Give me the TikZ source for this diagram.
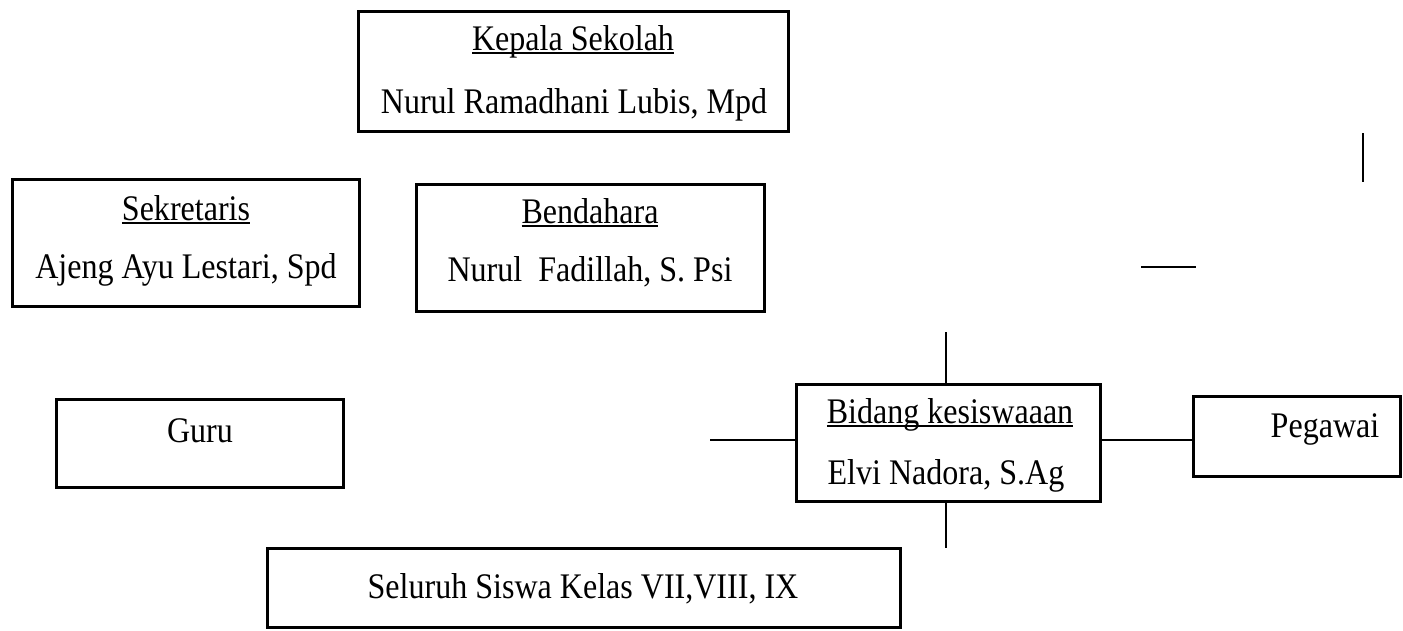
\documentclass[tikz,border=0pt]{standalone}
\usepackage{fontspec}
\setmainfont[FakeStretch=0.89]{Liberation Serif}
\newcommand{\uname}[1]{\setbox0\hbox{#1}\rlap{\rule[-3.5pt]{\wd0}{1.8pt}}\box0}

\begin{document}
\begin{tikzpicture}[x=1pt, y=-1pt]
    % Define styles
    \tikzset{
        box/.style={rectangle, draw, line width=3pt, inner sep=0pt},
        txt/.style={anchor=base, inner sep=0pt, font=\fontsize{36}{42}\selectfont},
        link/.style={line width=1.2pt},
    }
    \useasboundingbox (0,0) rectangle (1403,630);

    % Kepala Sekolah
    \node[box, minimum width=430, minimum height=120] (kepala) at (573.5,71.5) {};
    \node[txt] (kepalaA) at (573,50) {\uname{Kepala Sekolah}};
    \node[txt] (kepalaB) at (574,113) {Nurul Ramadhani Lubis, Mpd};

    % Sekretaris and Bendahara
    \node[box, minimum width=347, minimum height=127] (sekretaris) at (186,243) {};
    \node[txt] (sekretarisA) at (186,220) {\uname{Sekretaris}};
    \node[txt] (sekretarisB) at (186,278) {Ajeng Ayu Lestari, Spd};

    \node[box, minimum width=348, minimum height=127] (bendahara) at (590.5,248) {};
    \node[txt] (bendaharaA) at (590,223) {\uname{Bendahara}};
    \node[txt] (bendaharaB) at (590,281) {Nurul\ \ Fadillah, S. Psi};

    % Guru
    \node[box, minimum width=287, minimum height=88] (guru) at (200,443.5) {};
    \node[txt] (guruA) at (200,442) {Guru};

    % Bidang kesiswaan
    \node[box, minimum width=304, minimum height=117] (bidang) at (948.5,443) {};
    \node[txt] (bidangA) at (950,423) {\uname{Bidang kesiswaaan}};
    \node[txt] (bidangB) at (946,484) {Elvi Nadora, S.Ag};

    % Pegawai
    \node[box, minimum width=207.5, minimum height=80] (pegawai) at (1297,436.5) {};
    \node[txt] (pegawaiA) at (1325,437) {Pegawai};

    % Seluruh siswa
    \node[box, minimum width=633, minimum height=79] (siswa) at (584,588) {};
    \node[txt] (siswaA) at (583,598) {Seluruh Siswa Kelas VII,VIII, IX};

    % Connectors
    \coordinate (hline) at (0,440);
    \coordinate (upEnd) at (946,332);
    \coordinate (downEnd) at (946,548);
    \coordinate (leftEnd) at (710,440);
    \draw[link] (bidang.north -| upEnd) -- (upEnd);
    \draw[link] (bidang.south -| downEnd) -- (downEnd);
    \draw[link] (bidang.west |- hline) -- (leftEnd);
    \draw[link] (bidang.east |- hline) -- (pegawai.west |- hline);

    % Loose lines
    \coordinate (vA) at (1363,133);
    \coordinate (vB) at (1363,182);
    \coordinate (hA) at (1141,267);
    \coordinate (hB) at (1196,267);
    \draw[link] (vA) -- (vB);
    \draw[line width=2pt] (hA) -- (hB);
\end{tikzpicture}
\end{document}
